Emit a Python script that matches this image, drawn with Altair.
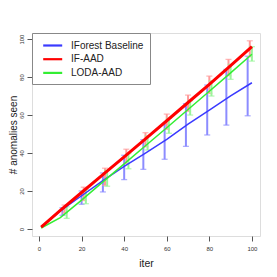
import altair as alt
import pandas as pd

# ---- data ----
iters = [1, 10, 20, 30, 40, 50, 60, 70, 80, 90, 100]
series_names = ["IForest Baseline", "IF-AAD", "LODA-AAD"]
blue_vals = [1, 9.5, 17.5, 25.5, 33, 40, 47.2, 55.2, 62.6, 70.1, 77]
red_vals = [1, 9.8, 19.2, 28.6, 38, 47.5, 57, 66.6, 76.2, 86, 96]
green_vals = [0.5, 6, 15.2, 24.8, 34.3, 43.8, 53.3, 62.9, 72.5, 82.2, 92]

blue_bar_x = [11, 20, 30, 40, 49, 59, 69, 79, 88, 98]
blue_bar_lo = [7.2, 13, 19.5, 26, 31.4, 36.7, 43.5, 49.5, 54.7, 59.6]
blue_bar_hi = [11.2, 20, 29.5, 38.8, 47, 55, 66, 75.8, 84, 91]

red_bar_x = [12, 21, 31, 41, 50, 60, 70, 80, 89, 99]
red_bar_lo = [8.4, 15, 23, 34.5, 43.3, 52.5, 62, 71.4, 80.7, 90.7]
red_bar_hi = [12.6, 22, 32, 42, 50.7, 60.5, 70.5, 80.5, 89.3, 99.1]

green_bar_x = [13, 22, 32, 42, 51, 61, 71, 81, 90, 100]
green_bar_lo = [5.6, 13.3, 22.5, 31.7, 41.6, 50.4, 60, 70, 78.8, 88.4]
green_bar_hi = [11.7, 20.7, 30.9, 39.6, 49, 58.3, 67.5, 78, 86.7, 96]

x_ticks = [0, 20, 40, 60, 80, 100]
y_ticks = [0, 20, 40, 60, 80, 100]

line_colors = ["#3a3aff", "#ff0000", "#33ee33"]
bar_colors = ["#8c8cff", "#ff9a9a", "#9af59a"]
line_widths = [1.5, 3, 1.5]

FONT = "Liberation Sans"

lines_df = pd.concat([
    pd.DataFrame({"iter": iters, "value": vals, "series": name})
    for name, vals in zip(series_names, [blue_vals, red_vals, green_vals])
])

bars = [
    pd.DataFrame({"iter": bx, "lo": lo, "hi": hi})
    for bx, lo, hi in [
        (blue_bar_x, blue_bar_lo, blue_bar_hi),
        (red_bar_x, red_bar_lo, red_bar_hi),
        (green_bar_x, green_bar_lo, green_bar_hi),
    ]
]

xscale = alt.Scale(domain=[-3.3, 103.8], nice=False, zero=False)
yscale = alt.Scale(domain=[-3.7, 103.2], nice=False, zero=False)

xaxis = alt.Axis(values=x_ticks, title="iter", grid=False, domain=False,
                 tickSize=5, tickColor="#555", labelFontSize=6, labelColor="#333",
                 labelFont=FONT, labelPadding=4, titleFont=FONT, titleFontSize=10.5,
                 titleFontWeight="normal", titleColor="#222", titleY=27,
                 titleBaseline="middle")
yaxis = alt.Axis(values=y_ticks, title="# anomalies seen", grid=False, domain=False,
                 tickSize=5, tickColor="#555", labelFontSize=6, labelColor="#333",
                 labelFont=FONT, labelAngle=270, labelAlign="center",
                 labelBaseline="middle", labelPadding=6, titleFont=FONT,
                 titleFontSize=10, titleFontWeight="normal", titleColor="#222",
                 titleX=-18.5, titleBaseline="middle")

layers = []
for i, bdf in enumerate(bars):
    base = alt.Chart(bdf)
    layers.append(base.mark_rule(color=bar_colors[i], strokeWidth=2).encode(
        x=alt.X("iter:Q", scale=xscale, axis=xaxis),
        y=alt.Y("lo:Q", scale=yscale, axis=yaxis),
        y2="hi:Q"))
    for col in ["lo", "hi"]:
        layers.append(base.mark_tick(color=bar_colors[i], orient="horizontal",
                                     size=6, thickness=1.3).encode(
            x=alt.X("iter:Q", scale=xscale, axis=xaxis),
            y=alt.Y(f"{col}:Q", scale=yscale, axis=yaxis)))

color = alt.Color("series:N",
                  scale=alt.Scale(domain=series_names, range=line_colors),
                  legend=alt.Legend(title=None, orient="top-left", offset=0,
                                    padding=6, fillColor="white",
                                    strokeColor="#888", labelFont=FONT,
                                    labelFontSize=10, labelColor="#222",
                                    symbolType="M-0.26,0H3.54", symbolSize=100,
                                    symbolStrokeWidth=2.2, labelOffset=20,
                                    rowPadding=1.7))

for i in [0, 2, 1]:
    layers.append(alt.Chart(lines_df).transform_filter(
        alt.datum.series == series_names[i]).mark_line(strokeWidth=line_widths[i]).encode(
        x=alt.X("iter:Q", scale=xscale, axis=xaxis),
        y=alt.Y("value:Q", scale=yscale, axis=yaxis),
        color=color))

chart = alt.layer(*layers).properties(
    width=228, height=203,
    autosize=alt.AutoSizeParams(type="none"),
    padding={"left": 24, "top": 25, "right": 9, "bottom": 33},
).configure_view(stroke="#777", strokeWidth=1).configure(background="white")

chart.save("out.html", embed_options={"renderer": "svg", "actions": False})
